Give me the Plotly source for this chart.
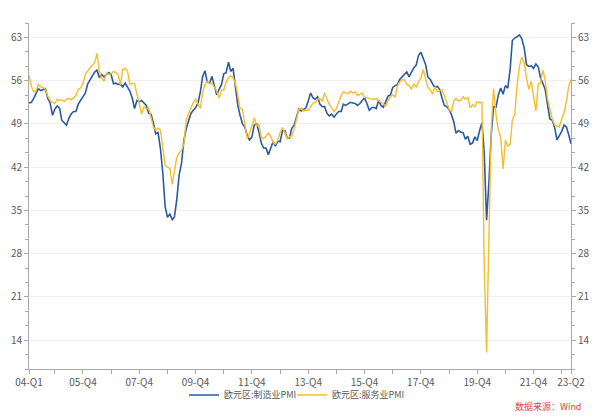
import pandas as pd
import plotly.graph_objects as go

# Monthly data, 2004-01 .. 2023-04
months = pd.date_range("2004-01-01", "2023-04-01", freq="MS")

manufacturing_pmi = [
    # 2004
    52.4, 52.5, 53.1, 53.9, 54.7, 54.4, 54.6, 54.7, 53.1, 52.4, 50.4, 51.4,
    # 2005
    51.9, 51.5, 49.6, 49.2, 48.8, 49.9, 50.6, 51.0, 51.0, 52.2, 52.8, 53.6,
    # 2006
    54.0, 55.5, 56.1, 56.6, 57.4, 57.7, 56.5, 57.0, 56.6, 57.0, 57.3, 57.0,
    # 2007
    55.5, 55.6, 55.4, 55.4, 55.0, 55.6, 54.9, 54.3, 53.2, 51.5, 52.8, 52.6,
    # 2008
    52.8, 52.3, 52.0, 50.7, 50.6, 49.2, 47.4, 47.6, 45.0, 41.1, 35.6, 33.9,
    # 2009
    34.4, 33.5, 33.9, 36.8, 40.7, 42.6, 46.3, 48.2, 49.3, 50.7, 51.2, 51.6,
    # 2010
    52.4, 54.2, 56.6, 57.6, 55.8, 55.6, 56.7, 55.1, 53.7, 54.6, 55.3, 57.1,
    # 2011
    57.3, 59.0, 57.5, 58.0, 54.6, 52.0, 50.4, 49.0, 48.5, 47.1, 46.4, 46.9,
    # 2012
    48.8, 49.0, 47.7, 45.9, 45.1, 45.1, 44.0, 45.1, 46.1, 45.4, 46.2, 46.1,
    # 2013
    47.9, 47.9, 46.8, 46.7, 48.3, 48.8, 50.3, 51.4, 51.1, 51.3, 51.6, 52.7,
    # 2014
    54.0, 53.2, 53.0, 53.4, 52.2, 51.8, 51.8, 50.7, 50.3, 50.6, 50.1, 50.6,
    # 2015
    51.0, 51.0, 52.2, 52.0, 52.2, 52.5, 52.4, 52.3, 52.0, 52.3, 52.8, 53.2,
    # 2016
    52.3, 51.2, 51.6, 51.7, 51.5, 52.8, 52.0, 51.7, 52.6, 53.5, 53.7, 54.9,
    # 2017
    55.2, 55.4, 56.2, 56.7, 57.0, 57.4, 56.6, 57.4, 58.1, 58.5, 60.1, 60.6,
    # 2018
    59.6, 58.6, 56.6, 56.2, 55.5, 54.9, 55.1, 54.6, 53.2, 52.0, 51.8, 51.4,
    # 2019
    50.5, 49.3, 47.5, 47.9, 47.7, 47.6, 46.5, 47.0, 45.7, 45.9, 46.9, 46.3,
    # 2020
    47.9, 49.2, 44.5, 33.4, 39.4, 47.4, 51.8, 51.7, 53.7, 54.8, 53.8, 55.2,
    # 2021
    54.8, 57.9, 62.5, 62.9, 63.1, 63.4, 62.8, 61.4, 58.6, 58.3, 58.4, 58.0,
    # 2022
    58.7, 58.2, 56.5, 55.5, 54.6, 52.1, 49.8, 49.6, 48.4, 46.4, 47.1, 47.8,
    # 2023
    48.8, 48.5, 47.3, 45.8,
]

services_pmi = [
    # 2004
    56.9, 55.0, 54.2, 54.3, 55.4, 55.0, 54.9, 54.6, 53.5, 52.8, 52.5, 52.3,
    # 2005
    53.0, 52.8, 52.9, 52.6, 53.0, 53.1, 52.9, 53.2, 53.6, 54.6, 54.8, 55.6,
    # 2006
    57.0, 57.6, 58.0, 58.3, 58.9, 60.4, 57.6, 56.4, 55.9, 57.2, 57.0, 57.1,
    # 2007
    57.5, 57.3, 57.0, 55.3, 57.8, 58.0, 57.6, 55.4, 55.6, 55.5, 53.7, 51.9,
    # 2008
    50.6, 51.8, 51.4, 51.6, 50.0, 48.5, 48.0, 48.3, 48.0, 45.0, 42.3, 42.0,
    # 2009
    41.8, 39.2, 41.0, 43.6, 44.3, 44.7, 45.7, 49.6, 50.7, 51.6, 52.5, 53.0,
    # 2010
    52.1, 51.5, 54.0, 55.4, 55.9, 55.5, 55.6, 54.9, 54.3, 53.2, 54.5, 54.5,
    # 2011
    55.8, 56.5, 56.8, 56.5, 55.6, 53.7, 51.5, 51.3, 48.5, 46.6, 47.5, 48.6,
    # 2012
    50.0, 48.6, 48.9, 46.8, 46.6, 47.0, 47.5, 47.0, 46.0, 45.7, 46.4, 47.6,
    # 2013
    48.4, 47.6, 46.6, 46.9, 47.1, 48.2, 49.8, 51.3, 51.6, 51.1, 51.2, 51.2,
    # 2014
    51.8, 52.4, 52.4, 53.0, 53.1, 52.7, 54.0, 53.1, 52.1, 51.6, 51.0, 51.5,
    # 2015
    52.6, 53.6, 54.2, 54.1, 53.9, 54.3, 54.0, 54.2, 53.6, 53.8, 54.0, 53.3,
    # 2016
    53.3, 53.1, 53.0, 53.0, 53.1, 52.7, 52.5, 52.2, 51.9, 52.8, 53.4, 53.7,
    # 2017
    53.4, 55.2, 55.8, 56.2, 56.1, 55.4, 55.2, 54.6, 55.5, 54.9, 55.9, 56.4,
    # 2018
    57.8, 56.2, 54.9, 54.5, 53.8, 55.0, 54.2, 54.4, 54.5, 53.6, 52.5, 51.4,
    # 2019
    50.9, 52.7, 53.1, 52.7, 52.8, 53.4, 53.0, 53.3, 51.6, 52.1, 51.8, 52.6,
    # 2020
    52.4, 52.5, 26.4, 12.0, 30.5, 48.3, 54.7, 50.5, 48.0, 46.9, 41.7, 46.4,
    # 2021
    45.4, 45.7, 49.6, 50.5, 55.2, 58.3, 59.8, 59.0, 56.4, 54.6, 55.9, 53.1,
    # 2022
    51.1, 55.5, 55.6, 57.7, 56.1, 53.0, 51.2, 49.8, 48.8, 48.6, 48.5, 49.8,
    # 2023
    50.8, 52.7, 55.0, 56.2,
]

series_names = ["欧元区:制造业PMI", "欧元区:服务业PMI"]

# x tick positions (Dec of each year plus first/last month) and labels
tick_dates = ["2004-01-01"] + [f"{y}-12-01" for y in range(2004, 2023)] + ["2023-04-01"]
tick_labels = ["04-Q1"] + [(f"{str(y)[2:]}-Q4" if y % 2 == 1 else "") for y in range(2004, 2023)] + ["23-Q2"]

y_ticks = [14, 21, 28, 35, 42, 49, 56, 63]
y_range = [9.333, 65.333]

BLUE = "#2C5AA0"
YELLOW = "#F6BE2C"
AXIS = "#A8A8A8"
TXT = "#595959"
FONT = "Noto Sans CJK SC"

fig = go.Figure()
fig.add_trace(go.Scatter(x=months, y=manufacturing_pmi, name=series_names[0], mode="lines",
                         line=dict(color=BLUE, width=1.6), yaxis="y", legend="legend"))
fig.add_trace(go.Scatter(x=months, y=services_pmi, name=series_names[1], mode="lines",
                         line=dict(color=YELLOW, width=1.4), yaxis="y2", legend="legend2"))

yaxis_common = dict(
    range=y_range, tickvals=y_ticks, ticktext=[str(v) for v in y_ticks],
    showline=True, linecolor=AXIS, linewidth=1, ticks="outside", ticklen=4,
    tickcolor=AXIS, tickfont=dict(size=10, color=TXT, family=FONT),
    minor=dict(ticks="outside", ticklen=3, tickcolor=AXIS, tick0=14, dtick=7/3, showgrid=False),
    zeroline=False, automargin=False,
)

legend_common = dict(orientation="h", y=-0.075, yanchor="middle",
                     font=dict(size=9, color=TXT, family=FONT), itemwidth=30,
                     bgcolor="rgba(0,0,0,0)", borderwidth=0)

fig.update_layout(
    template="none",
    width=600, height=417,
    margin=dict(l=29, r=29, t=23, b=48, autoexpand=False),
    paper_bgcolor="white", plot_bgcolor="white",
    font=dict(family=FONT, size=10, color=TXT),
    xaxis=dict(
        type="date", range=["2004-01-01", "2023-04-01"],
        tickvals=tick_dates, ticktext=tick_labels,
        showline=True, linecolor=AXIS, linewidth=1,
        ticks="outside", ticklen=4, tickcolor=AXIS,
        showgrid=False, zeroline=False, automargin=False,
        tickfont=dict(size=10, color=TXT, family=FONT),
    ),
    yaxis=dict(**yaxis_common, side="left", showgrid=True, gridcolor="#EFEFEF", gridwidth=1),
    yaxis2=dict(**yaxis_common, side="right", overlaying="y", showgrid=False),
    legend=dict(**legend_common, x=(302 - 29) / 542, xanchor="right"),
    legend2=dict(**legend_common, x=(292 - 29) / 542, xanchor="left"),
    showlegend=True,
    annotations=[dict(text="数据来源：Wind", xref="paper", yref="paper",
                      x=1.022, y=-0.107, xanchor="right", yanchor="middle", showarrow=False,
                      font=dict(size=9, color="#E0443C", family=FONT))],
)

fig.write_html("out.html", config={"displayModeBar": False},
               post_script="document.body.style.margin='0px';")
